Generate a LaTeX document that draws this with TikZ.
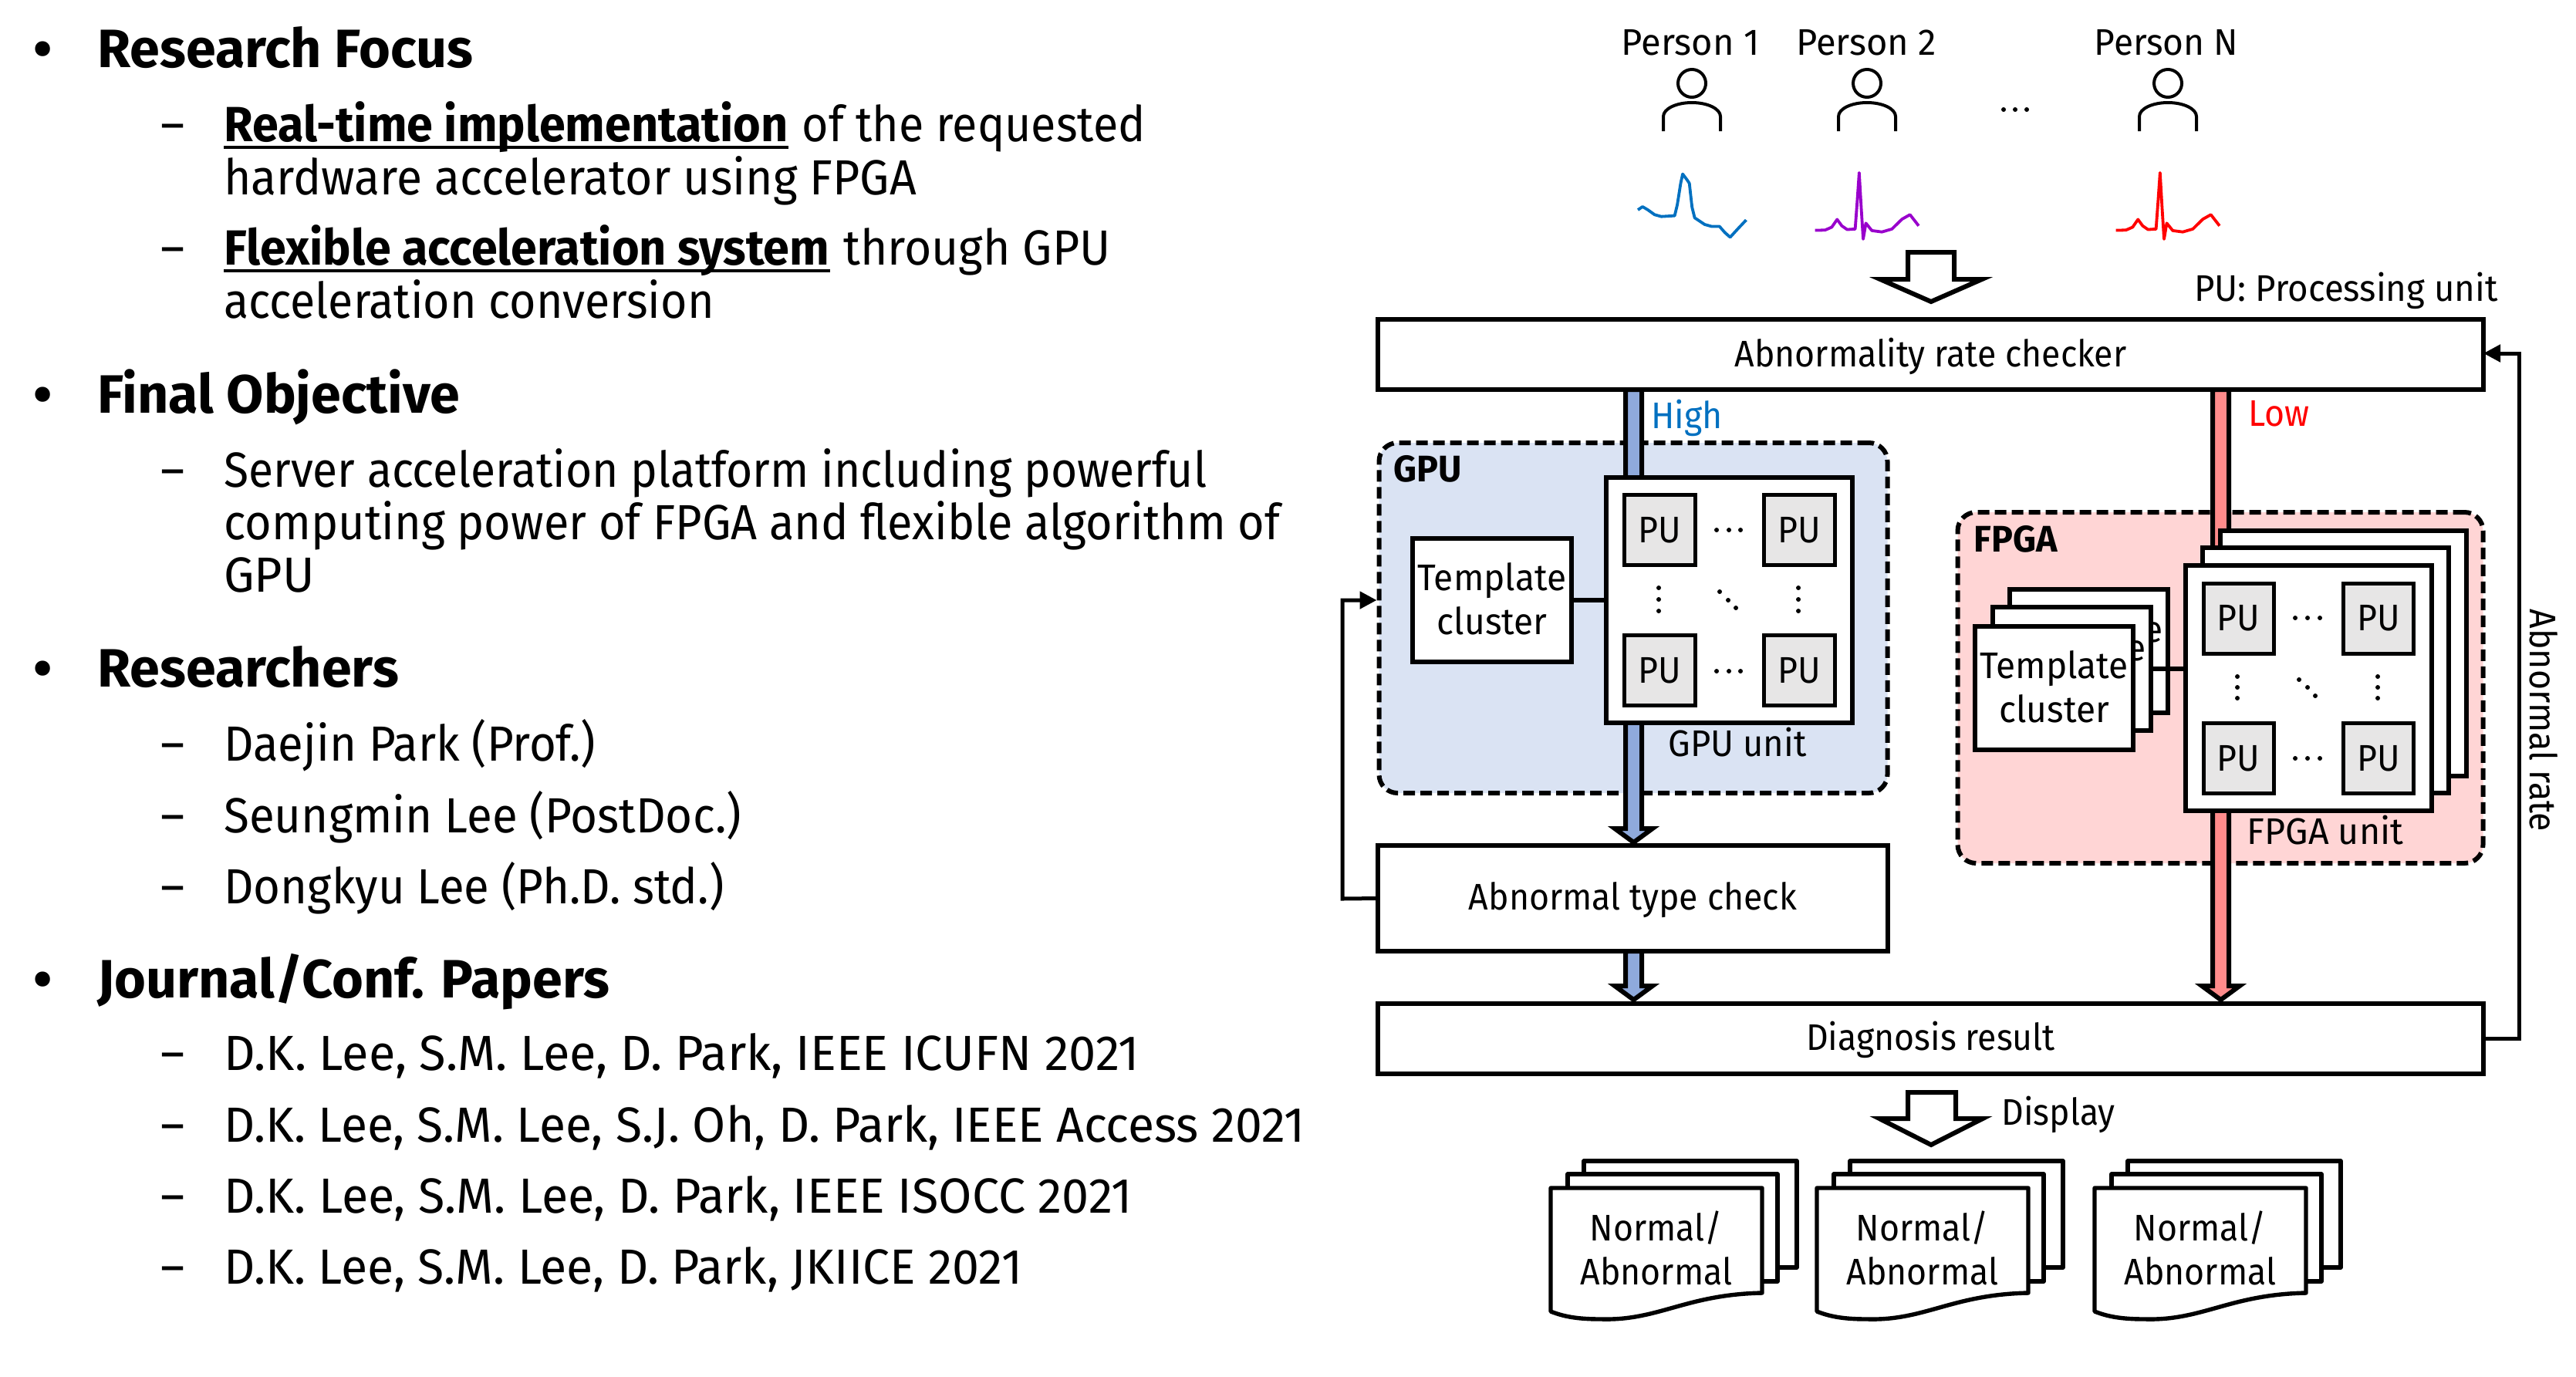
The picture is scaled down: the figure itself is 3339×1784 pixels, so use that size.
\documentclass[tikz,border=0pt]{standalone}
\usepackage{fontspec}
\setmainfont{Fira Sans}[FakeStretch=0.93]
\usetikzlibrary{arrows.meta}
\definecolor{gpufill}{HTML}{DAE3F3}
\definecolor{fpgafill}{HTML}{FFD5D5}
\definecolor{gpubar}{HTML}{8FAADC}
\definecolor{fpgabar}{HTML}{FF8B8B}
\definecolor{pufill}{HTML}{E7E6E6}
\definecolor{hightext}{HTML}{0070C0}
\definecolor{ecgpurple}{HTML}{9900CC}
\newcommand\st[1]{\addfontfeatures{FakeStretch=#1}}
\newcommand\tdots[6]{\fill (#1,#2) circle (3) (#3,#4) circle (3) (#5,#6) circle (3);}
\newcommand\person[2]{\draw[line width=2pt] (#1,#2) circle (18);\draw[line width=2pt] (#1-37,#2+62) -- (#1-37,#2+43) arc (180:0:18.5pt and 9pt) -- (#1+37,#2+62);}
\tikzset{
 x=0.5pt,y=-0.5pt,
 wh/.style 2 args={minimum width=#1*0.5pt,minimum height=#2*0.5pt},
 lbl/.style={font=\fontsize{24}{28.5}\selectfont,inner sep=0pt,align=center},
 lv1/.style={font=\fontsize{35}{40}\selectfont\bfseries\st{1.0},inner sep=0pt,anchor=base west},
 lv2/.style={font=\fontsize{32}{36}\selectfont\st{#1},inner sep=0pt,anchor=base west},
 lv2/.default=0.935,
 lv2b/.style={font=\fontsize{32}{36}\selectfont\bfseries\st{0.955},inner sep=0pt,anchor=base west},
 boxn/.style={draw,line width=3pt,fill=white,inner sep=0pt,outer sep=0pt,align=center,font=\fontsize{24}{28.5}\selectfont},
 punode/.style={boxn,line width=2.5pt,fill=pufill,wh={92}{91}},
 region/.style={draw,line width=3pt,dash pattern=on 7.5pt off 3.5pt,rounded corners=12pt,inner sep=0pt},
 unitn/.style={boxn,wh={319}{318}},
 clusn/.style={boxn,wh={205}{160},font=\fontsize{24}{28.5}\selectfont\st{0.96}},
 feed/.style={line width=2.5pt,-{Triangle[length=11pt,width=11pt]}},
 ecg/.style={line width=1.9pt,line join=round},
 docl/.style={line width=2.7pt,fill=white,line join=round},
 blab/.style={font=\fontsize{24}{28}\selectfont\bfseries\st{0.97},inner sep=0pt,anchor=base west},
 midtext/.style={inner sep=0pt,font=\fontsize{24}{28.5}\selectfont,align=center},
}
\newcommand\docstack[1]{
 \draw[docl] (2053+#1,1505) rectangle (2329+#1,1643);
 \draw[docl] (2032+#1,1522) rectangle (2304+#1,1661);
 \draw[docl] (2010+#1,1540) -- (2284+#1,1540) -- (2284+#1,1676) .. controls (2185+#1,1678) and (2150+#1,1712) .. (2076+#1,1710) .. controls (2050+#1,1710) and (2030+#1,1708) .. (2010+#1,1700) -- cycle;
}
\begin{document}
\begin{tikzpicture}
\useasboundingbox (0,0) rectangle (3339,1784);
% left column
\node[lv1] (b1) at (43,87) {•};
\node[lv1] (t1) at (126,87) {Research Focus};
\node[lv2] (d1) at (208,183) {–};
\node[lv2b] (r1) at (290,183) {Real-time implementation};
\node[lv2=0.925] (r2) at ([xshift=8.5pt]r1.base east) {of the requested};
\draw[line width=1.6pt] ([yshift=-4pt]r1.base west) -- ([yshift=-4pt]r1.base east);
\node[lv2=0.948] (r3) at (290,252) {hardware accelerator using FPGA};
\node[lv2] (d2) at (208,343) {–};
\node[lv2b] (f1) at (290,343) {Flexible acceleration system};
\node[lv2=0.947] (f2) at ([xshift=8.5pt]f1.base east) {through GPU};
\draw[line width=1.6pt] ([yshift=-4pt]f1.base west) -- ([yshift=-4pt]f1.base east);
\node[lv2=0.923] (f3) at (290,412) {acceleration conversion};
\node[lv1] (b2) at (43,535) {•};
\node[lv1] (t2) at (126,535) {Final Objective};
\node[lv2] (d3) at (208,631) {–};
\node[lv2=0.918] (s1) at (290,631) {Server acceleration platform including powerful};
\node[lv2=0.928] (s2) at (290,699) {computing power of FPGA and flexible algorithm of};
\node[lv2=0.98] (s3) at (290,767) {GPU};
\node[lv1] (b3) at (43,890) {•};
\node[lv1] (t3) at (126,890) {Researchers};
\node[lv2] (d4) at (208,986) {–};
\node[lv2] (p1) at (290,986) {Daejin Park (Prof.)};
\node[lv2] (d5) at (208,1079) {–};
\node[lv2=0.939] (p2) at (290,1079) {Seungmin Lee (PostDoc.)};
\node[lv2] (d6) at (208,1171) {–};
\node[lv2] (p3) at (290,1171) {Dongkyu Lee (Ph.D. std.)};
\node[lv1] (b4) at (43,1293) {•};
\node[lv1] (t4) at (126,1293) {Journal/Conf. Papers};
\node[lv2] (d7) at (208,1387) {–};
\node[lv2=0.986] (j1) at (290,1387) {D.K. Lee, S.M. Lee, D. Park, IEEE ICUFN 2021};
\node[lv2] (d8) at (208,1480) {–};
\node[lv2=0.975] (j2) at (290,1480) {D.K. Lee, S.M. Lee, S.J. Oh, D. Park, IEEE Access 2021};
\node[lv2] (d9) at (208,1572) {–};
\node[lv2=0.981] (j3) at (290,1572) {D.K. Lee, S.M. Lee, D. Park, IEEE ISOCC 2021};
\node[lv2] (d10) at (208,1664) {–};
\node[lv2=0.978] (j4) at (290,1664) {D.K. Lee, S.M. Lee, D. Park, JKIICE 2021};
% persons
\node[lbl,font=\fontsize{24}{28.5}\selectfont\st{0.98}] (pa) at (2191,55) {Person 1};
\node[lbl,font=\fontsize{24}{28.5}\selectfont\st{0.98}] (pb) at (2419,55) {Person 2};
\node[lbl,font=\fontsize{24}{28.5}\selectfont\st{0.96}] (pn) at (2808,55) {Person N};
\person{2193}{108}
\person{2420}{108}
\person{2810}{108}
\tdots{2597}{142}{2612}{142}{2627}{142}
% ecg traces (in zoomed coordinates)
\begin{scope}[xshift=990pt,x=0.4333pt,y=-0.1722pt]
\draw[ecg,hightext] (165,790)--(172,778)--(180,790)--(190,808)--(200,815)--(220,812)--(224,770)--(229,690)--(232,655)--(238,675)--(242,690)--(246,780)--(250,820)--(265,845)--(275,852)--(287,852)--(295,875)--(303,893)--(315,860)--(327,828);
\foreach \dx/\col in {0/ecgpurple,450/red}{
\draw[ecg,\col,xshift=\dx*0.4333pt] (430,867)--(445,866)--(455,855)--(463,826)--(470,850)--(478,864)--(490,862)--(493,760)--(496,650)--(499,780)--(502,900)--(506,840)--(515,868)--(530,873)--(545,862)--(560,825)--(572,808)--(585,850);
}
\end{scope}
% hollow arrows
\draw[line width=3pt,fill=white,line join=miter] (2473,327)--(2533,327)--(2533,362)--(2569,362)--(2503,391)--(2437,362)--(2473,362)--cycle;
\node[lbl,anchor=base,font=\fontsize{24}{28.5}\selectfont\st{0.95}] (pul) at (3041,390) {PU: Processing unit};
% regions
\node[region,fill=gpufill,wh={659}{454}] (gr) at (2117,801) {};
\node[region,fill=fpgafill,wh={681}{455}] (fr) at (2878,891.5) {};
% bars
\draw[line width=3pt,fill=gpubar,line join=miter] (2107,505)--(2128,505)--(2128,1074)--(2142,1074)--(2117.5,1092)--(2093,1074)--(2107,1074)--cycle;
\draw[line width=3pt,fill=gpubar,line join=miter] (2107,1233)--(2128,1233)--(2128,1278)--(2142,1278)--(2117.5,1296)--(2093,1278)--(2107,1278)--cycle;
\draw[line width=3pt,fill=fpgabar,line join=miter] (2868,505)--(2889,505)--(2889,1278)--(2903,1278)--(2878.5,1296)--(2854,1278)--(2868,1278)--cycle;
% main boxes
\node[boxn,wh={1433}{91}] (arc) at (2502.5,459.5) {};
\node[midtext] (arct) at (2502.5,461.5) {Abnormality rate checker};
\node[boxn,wh={661}{137}] (atc) at (2116.5,1164.5) {};
\node[midtext] (atct) at (2116.5,1166.5) {Abnormal type check};
\node[boxn,wh={1433}{91}] (dres) at (2502.5,1346) {};
\node[midtext] (drest) at (2502.5,1348) {Diagnosis result};
% GPU
\node[unitn] (gu) at (2241.5,778) {};
\node[clusn,wh={206}{160}] (tc) at (1934,778) {};
\node[midtext,font=\fontsize{24}{28.5}\selectfont\st{0.96}] (tct) at (1934,776) {Template\\cluster};
\draw[line width=3pt] (tc.east) -- (gu.west);
\node[punode] (g1) at (2151,687) {PU};
\node[punode] (g2) at (2332,687) {PU};
\node[punode] (g3) at (2151,869) {PU};
\node[punode] (g4) at (2332,869) {PU};
\tdots{2225}{687}{2241}{687}{2256}{687}
\tdots{2225}{870}{2241}{870}{2256}{870}
\tdots{2150}{762}{2150}{777}{2150}{792}
\tdots{2331}{762}{2331}{777}{2331}{792}
\tdots{2229}{767}{2240}{778}{2250}{788}
\node[blab] (gl) at (1806,624) {GPU};
\node[lbl,anchor=base,font=\fontsize{24}{28.5}\selectfont\st{0.945}] (gul) at (2252,980) {GPU unit};
\node[lbl,anchor=base west,text=hightext] (hl) at (2140,555) {High};
% FPGA
\node[unitn] (fu3) at (3037.5,847) {};
\node[unitn] (fu2) at (3014.5,869) {};
\node[unitn] (fu) at (2992.5,891.5) {};
\node[clusn] (tcb) at (2707.5,843.5) {Template\\cluster};
\node[clusn] (tcm) at (2685.5,867) {Template\\cluster};
\draw[line width=3pt] (tcm.east) -- (tcm.east -| fu.west);
\node[clusn] (tcf) at (2662.5,892) {};
\node[midtext,font=\fontsize{24}{28.5}\selectfont\st{0.96}] (tcft) at (2662.5,890) {Template\\cluster};
\node[punode,wh={91}{91}] (f11) at (2901.5,801.5) {PU};
\node[punode,wh={91}{91}] (f12) at (3083,801.5) {PU};
\node[punode,wh={91}{91}] (f13) at (2901.5,983) {PU};
\node[punode,wh={91}{91}] (f14) at (3083,983) {PU};
\tdots{2975}{801}{2991}{801}{3007}{801}
\tdots{2975}{983}{2991}{983}{3007}{983}
\tdots{2900}{877}{2900}{891}{2900}{905}
\tdots{3082}{877}{3082}{891}{3082}{905}
\tdots{2980}{881}{2991}{891}{3001}{902}
\node[blab] (fl) at (2558,715) {FPGA};
\node[lbl,anchor=base,font=\fontsize{24}{28.5}\selectfont\st{0.97}] (ful) at (3014,1094) {FPGA unit};
\node[lbl,anchor=base west,text=red] (ll) at (2914,552) {Low};
% feedbacks
\coordinate (fbr1) at (3265,1346);
\coordinate (fbr2) at (3265,458);
\draw[feed] (dres.east) -- (fbr1) -- (fbr2) -- (fbr2 -| arc.east);
\coordinate (fbl1) at (1740,1165);
\coordinate (fbl2) at (1740,778);
\draw[feed] (atc.west) -- (fbl1) -- (fbl2) -- (fbl2 -| gr.west);
\node[lbl,rotate=-90] (arl) at (3297,934) {Abnormal rate};
% bottom
\draw[line width=3pt,fill=white,line join=miter] (2473,1416)--(2535,1416)--(2535,1450)--(2570,1450)--(2503,1484)--(2436,1450)--(2473,1450)--cycle;
\node[lbl,anchor=base west] (dl) at (2594,1458) {Display};
\docstack{0}
\docstack{345}
\docstack{705}
\node[lbl] (n1) at (2147,1618) {Normal/\\Abnormal};
\node[lbl] (n2) at (2492,1618) {Normal/\\Abnormal};
\node[lbl] (n3) at (2852,1618) {Normal/\\Abnormal};
\end{tikzpicture}
\end{document}
